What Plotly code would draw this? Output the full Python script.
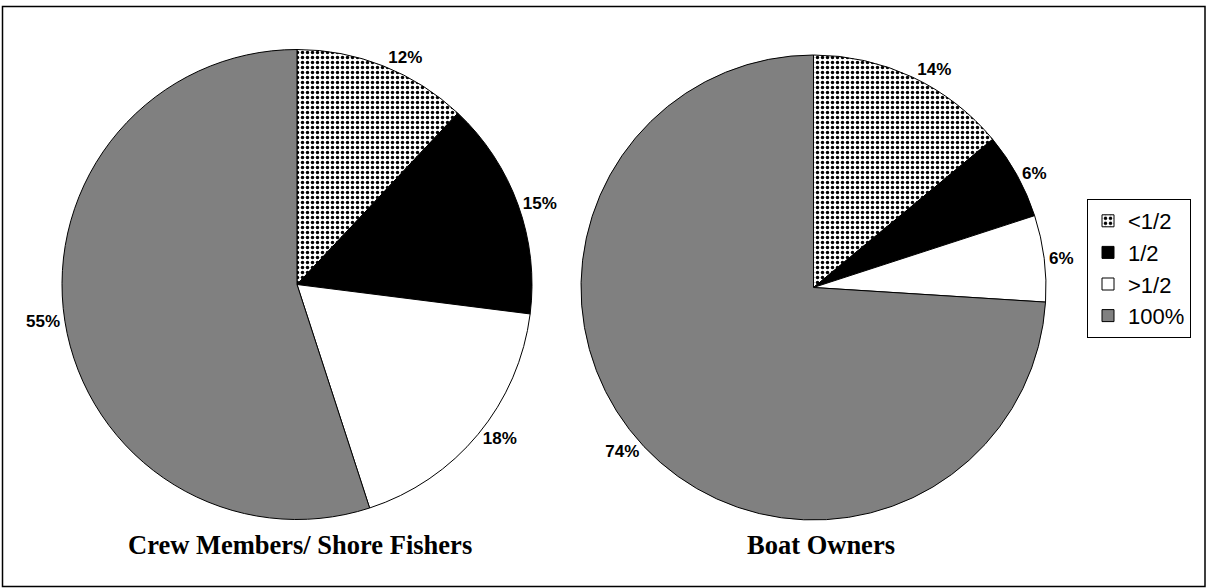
import plotly.graph_objects as go

W, H = 1207, 588

shares = ['<1/2', '1/2', '>1/2', '100%']
crew_pct = [12, 15, 18, 55]
owner_pct = [14, 6, 6, 74]
pie_titles = ['Crew Members/ Shore Fishers', 'Boat Owners']

fill_colors = ['white', 'black', 'white', '#808080']
patterns = ['.', '', '', '']


def px_domain(cx, cy, r):
    # pixel centre/radius -> paper domain
    return dict(x=[(cx - r) / W, (cx + r) / W],
                y=[1 - (cy + r) / H, 1 - (cy - r) / H])


def make_pie(values, domain, show):
    return go.Pie(
        labels=shares,
        values=values,
        domain=domain,
        sort=False,
        direction='clockwise',
        rotation=0,
        texttemplate='%{value}%',
        textposition='outside',
        outsidetextfont=dict(family='Liberation Sans, Arial', size=17,
                             color='black', weight='bold'),
        marker=dict(
            colors=fill_colors,
            line=dict(color='black', width=1),
            pattern=dict(shape=patterns, fgcolor='black', bgcolor='white',
                         size=5, solidity=0.38),
        ),
        showlegend=show,
        hoverinfo='label+percent',
    )


fig = go.Figure()
fig.add_trace(make_pie(crew_pct, px_domain(297, 284.5, 235), True))
fig.add_trace(make_pie(owner_pct, px_domain(813.5, 287.5, 232.5), False))

# captions under each pie
for txt, cx in zip(pie_titles, [300, 821]):
    fig.add_annotation(
        x=cx / W, y=1 - 545 / H, xref='paper', yref='paper',
        xanchor='center', yanchor='middle',
        text=f'<b>{txt}</b>', showarrow=False,
        font=dict(family='Liberation Serif, Times New Roman', size=26.5, color='black'),
    )

fig.update_layout(
    width=W, height=H,
    margin=dict(l=0, r=0, t=0, b=0),
    paper_bgcolor='white',
    plot_bgcolor='white',
    legend=dict(
        x=1087 / W, y=1 - 199 / H,
        xanchor='left', yanchor='top',
        font=dict(family='Liberation Sans, Arial', size=22, color='black'),
        bgcolor='white',
        bordercolor='black',
        borderwidth=1,
        traceorder='normal',
    ),
    shapes=[dict(type='rect', xref='paper', yref='paper',
                 x0=2.5 / W, x1=1205 / W, y0=1 - 586.5 / H, y1=1 - 6.5 / H,
                 line=dict(color='black', width=1.5))],
)

fig.write_html("out.html", config={'displayModeBar': False},
               post_script="document.body.style.margin='0';")
